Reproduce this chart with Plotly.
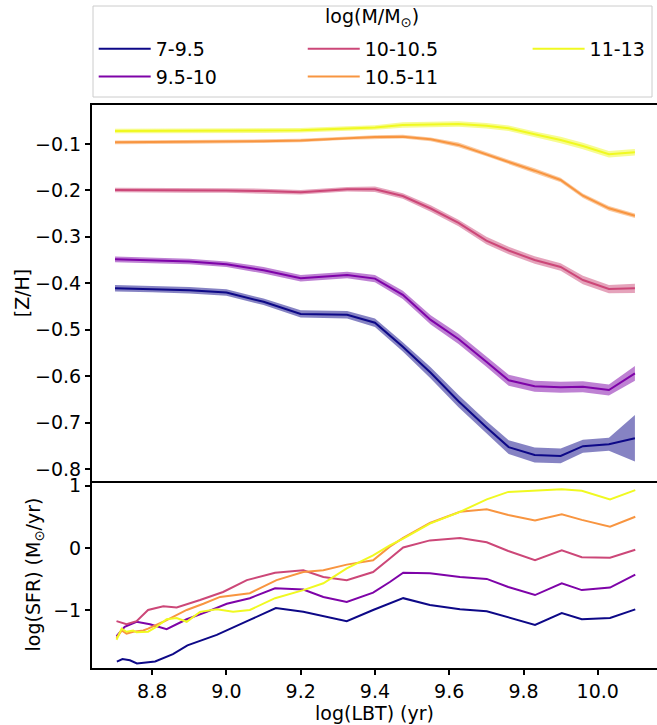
import plotly.graph_objects as go

# ---------------- data ----------------
mass_bins = ["7-9.5", "9.5-10", "10-10.5", "10.5-11", "11-13"]
colors = ["#0d0887", "#7e03a8", "#cc4778", "#f89540", "#f0f921"]
band_colors = ["rgba(13,8,135,0.5)", "rgba(126,3,168,0.5)", "rgba(204,71,120,0.5)",
               "rgba(248,149,64,0.5)", "rgba(240,249,33,0.5)"]

lbt_z = [8.70, 8.80, 8.90, 9.00, 9.10, 9.20, 9.325, 9.40, 9.475, 9.55, 9.625,
         9.70, 9.76, 9.83, 9.90, 9.96, 10.03, 10.10]

zh_7_95 = [-0.411, -0.4125, -0.415, -0.420, -0.440, -0.466, -0.468, -0.485, -0.537,
           -0.593, -0.654, -0.710, -0.753, -0.770, -0.772, -0.751, -0.747, -0.734]
zh_95_10 = [-0.3485, -0.350, -0.353, -0.359, -0.372, -0.389, -0.382, -0.390, -0.425,
            -0.479, -0.520, -0.569, -0.609, -0.622, -0.624, -0.623, -0.630, -0.594]
zh_10_105 = [-0.199, -0.199, -0.1998, -0.2002, -0.2013, -0.204, -0.1976, -0.1976, -0.212,
             -0.239, -0.270, -0.308, -0.3295, -0.350, -0.365, -0.393, -0.4125, -0.411]
zh_105_11 = [-0.0963, -0.0961, -0.0957, -0.095, -0.094, -0.0925, -0.087, -0.085, -0.0843,
             -0.090, -0.102, -0.1216, -0.1388, -0.1575, -0.1776, -0.2114, -0.2386, -0.2545]
zh_11_13 = [-0.072, -0.072, -0.072, -0.072, -0.0713, -0.0705, -0.0666, -0.0644, -0.059,
            -0.058, -0.0569, -0.0606, -0.0662, -0.0791, -0.0914, -0.1043, -0.1222, -0.1179]

err_7_95 = [0.007, 0.007, 0.007, 0.007, 0.007, 0.008, 0.008, 0.009, 0.010, 0.012, 0.013,
            0.013, 0.015, 0.016, 0.016, 0.014, 0.014, 0.050]
err_95_10 = [0.006, 0.006, 0.006, 0.006, 0.007, 0.007, 0.007, 0.008, 0.009, 0.010, 0.011,
             0.011, 0.012, 0.012, 0.012, 0.012, 0.012, 0.016]
err_10_105 = [0.005, 0.005, 0.005, 0.005, 0.005, 0.005, 0.005, 0.006, 0.006, 0.007, 0.007,
              0.008, 0.008, 0.008, 0.008, 0.009, 0.009, 0.010]
err_105_11 = [0.004, 0.004, 0.004, 0.004, 0.004, 0.004, 0.004, 0.004, 0.004, 0.004, 0.005,
              0.005, 0.005, 0.005, 0.005, 0.005, 0.005, 0.005]
err_11_13 = [0.005, 0.005, 0.005, 0.005, 0.005, 0.005, 0.005, 0.005, 0.006, 0.006, 0.006,
             0.006, 0.006, 0.006, 0.007, 0.007, 0.007, 0.007]

sfr_x_7_95 = [8.705, 8.720, 8.740, 8.759, 8.808, 8.856, 8.895, 8.974, 9.063, 9.133, 9.207,
              9.324, 9.395, 9.476, 9.548, 9.629, 9.701, 9.831, 9.903, 9.957, 10.033, 10.101]
sfr_7_95 = [-1.83, -1.79, -1.81, -1.86, -1.83, -1.71, -1.57, -1.40, -1.16, -0.97, -1.03,
            -1.18, -1.00, -0.81, -0.92, -0.99, -1.02, -1.24, -1.05, -1.15, -1.13, -0.99]

sfr_x_95_10 = [8.704, 8.726, 8.758, 8.794, 8.839, 8.893, 8.947, 9.001, 9.063, 9.131, 9.207,
               9.261, 9.324, 9.395, 9.440, 9.476, 9.548, 9.629, 9.701, 9.759, 9.831, 9.903,
               9.957, 10.033, 10.101]
sfr_95_10 = [-1.42, -1.27, -1.19, -1.23, -1.31, -1.15, -1.03, -0.90, -0.81, -0.65, -0.67,
             -0.79, -0.87, -0.72, -0.55, -0.40, -0.41, -0.47, -0.50, -0.63, -0.76, -0.57,
             -0.68, -0.64, -0.43]

sfr_x_10_105 = [8.704, 8.731, 8.758, 8.789, 8.830, 8.866, 8.929, 8.991, 9.055, 9.131, 9.207,
                9.261, 9.324, 9.395, 9.440, 9.476, 9.548, 9.629, 9.701, 9.759, 9.831, 9.903,
                9.957, 10.033, 10.101]
sfr_10_105 = [-1.18, -1.23, -1.18, -1.00, -0.94, -0.96, -0.84, -0.71, -0.52, -0.40, -0.36,
              -0.47, -0.52, -0.39, -0.17, 0.006, 0.12, 0.16, 0.09, -0.05, -0.20, -0.04,
              -0.15, -0.16, -0.03]

sfr_x_105_11 = [8.704, 8.718, 8.731, 8.749, 8.776, 8.789, 8.830, 8.893, 8.938, 8.983, 9.063,
                9.135, 9.207, 9.261, 9.324, 9.395, 9.440, 9.476, 9.548, 9.629, 9.701, 9.759,
                9.831, 9.903, 9.957, 10.033, 10.101]
sfr_105_11 = [-1.45, -1.33, -1.38, -1.35, -1.33, -1.30, -1.19, -1.00, -0.90, -0.79, -0.73,
              -0.52, -0.39, -0.36, -0.27, -0.20, 0.02, 0.16, 0.40, 0.58, 0.62, 0.53, 0.44,
              0.54, 0.45, 0.34, 0.50]

sfr_x_11_13 = [8.704, 8.718, 8.731, 8.749, 8.758, 8.789, 8.812, 8.839, 8.866, 8.893, 8.929,
               8.974, 9.018, 9.063, 9.131, 9.207, 9.261, 9.324, 9.395, 9.440, 9.476, 9.548,
               9.629, 9.701, 9.759, 9.831, 9.903, 9.957, 10.033, 10.101]
sfr_11_13 = [-1.48, -1.30, -1.35, -1.33, -1.36, -1.35, -1.27, -1.15, -1.13, -1.19, -1.03,
             -0.99, -1.03, -1.00, -0.81, -0.68, -0.57, -0.33, -0.12, 0.04, 0.15, 0.39, 0.58,
             0.78, 0.90, 0.92, 0.945, 0.92, 0.78, 0.93]

zh_series = [zh_7_95, zh_95_10, zh_10_105, zh_105_11, zh_11_13]
err_series = [err_7_95, err_95_10, err_10_105, err_105_11, err_11_13]
sfr_x_series = [sfr_x_7_95, sfr_x_95_10, sfr_x_10_105, sfr_x_105_11, sfr_x_11_13]
sfr_series = [sfr_7_95, sfr_95_10, sfr_10_105, sfr_105_11, sfr_11_13]

x_ticks = [8.8, 9.0, 9.2, 9.4, 9.6, 9.8, 10.0]
x_tick_text = ["8.8", "9.0", "9.2", "9.4", "9.6", "9.8", "10.0"]

# ---------------- figure ----------------
FONT = "DejaVu Sans"
FS = 19
fig = go.Figure()

legend_of = ["legend", "legend", "legend2", "legend2", "legend3"]

for i in range(5):
    z = zh_series[i]
    e = err_series[i]
    lo = [a - b for a, b in zip(z, e)]
    hi = [a + b for a, b in zip(z, e)]
    fig.add_trace(go.Scatter(
        x=lbt_z + lbt_z[::-1], y=hi + lo[::-1], fill="toself",
        fillcolor=band_colors[i], line=dict(width=0), mode="lines",
        hoverinfo="skip", showlegend=False, xaxis="x", yaxis="y"))
    fig.add_trace(go.Scatter(
        x=lbt_z, y=z, mode="lines", line=dict(color=colors[i], width=2),
        name=mass_bins[i], legend=legend_of[i], showlegend=True,
        xaxis="x", yaxis="y"))

for i in range(5):
    fig.add_trace(go.Scatter(
        x=sfr_x_series[i], y=sfr_series[i], mode="lines",
        line=dict(color=colors[i], width=2), showlegend=False,
        xaxis="x2", yaxis="y2"))

top_h = 563.0
split = 187.0 / top_h
xr = [8.638, 10.1595]

axis_common = dict(showline=True, linecolor="black", linewidth=2, showgrid=False,
                   zeroline=False, ticks="outside", ticklen=5, tickwidth=1.5,
                   tickcolor="black", tickfont=dict(family=FONT, size=FS, color="black"))

leg_common = dict(orientation="v", font=dict(family=FONT, size=FS, color="black"),
                  bgcolor="rgba(0,0,0,0)", borderwidth=0, yanchor="top",
                  y=1 + (105 - 30) / top_h, xanchor="left", itemwidth=52,
                  tracegroupgap=0)

fig.update_layout(
    width=657, height=725,
    margin=dict(l=92, r=0, t=105, b=57),
    paper_bgcolor="white", plot_bgcolor="white",
    font=dict(family=FONT, size=FS, color="black"),
    xaxis=dict(domain=[0, 1], anchor="y", range=xr, showticklabels=False,
               showline=True, mirror=True, linecolor="black", linewidth=2,
               showgrid=False, zeroline=False, ticks=""),
    yaxis=dict(domain=[split, 1], anchor="x", range=[-0.826, -0.016],
               tickvals=[-0.1, -0.2, -0.3, -0.4, -0.5, -0.6, -0.7, -0.8],
               title=dict(text="[Z/H]", font=dict(family=FONT, size=FS), standoff=0),
               **axis_common),
    xaxis2=dict(domain=[0, 1], anchor="y2", range=xr, matches="x",
                tickvals=x_ticks, ticktext=x_tick_text,
                title=dict(text="log(LBT) (yr)", font=dict(family=FONT, size=FS), standoff=2),
                **axis_common),
    yaxis2=dict(domain=[0, split], anchor="x2", range=[-1.934, 1.076],
                tickvals=[-1, 0, 1], ticktext=["\u22121", "0", "1"],
                title=dict(text="log(SFR) (M<sub>\u2299</sub>/yr)",
                           font=dict(family=FONT, size=FS), standoff=8),
                **axis_common),
    legend=dict(x=0.003, **leg_common),
    legend2=dict(x=0.373, **leg_common),
    legend3=dict(x=0.771, **leg_common),
    shapes=[dict(type="rect", xref="paper", yref="paper",
                 x0=1 / 565, x1=560 / 565,
                 y0=1 + (105 - 97) / top_h, y1=1 + (105 - 6) / top_h,
                 line=dict(color="#cccccc", width=1), fillcolor="rgba(0,0,0,0)")],
    annotations=[dict(text="log(M/M<sub>\u2299</sub>)", xref="paper", yref="paper",
                      x=(372 - 92) / 565, y=1 + (105 - 18) / top_h,
                      xanchor="center", yanchor="middle", showarrow=False,
                      font=dict(family=FONT, size=FS, color="black"))],
)

fig.write_html("out.html")
